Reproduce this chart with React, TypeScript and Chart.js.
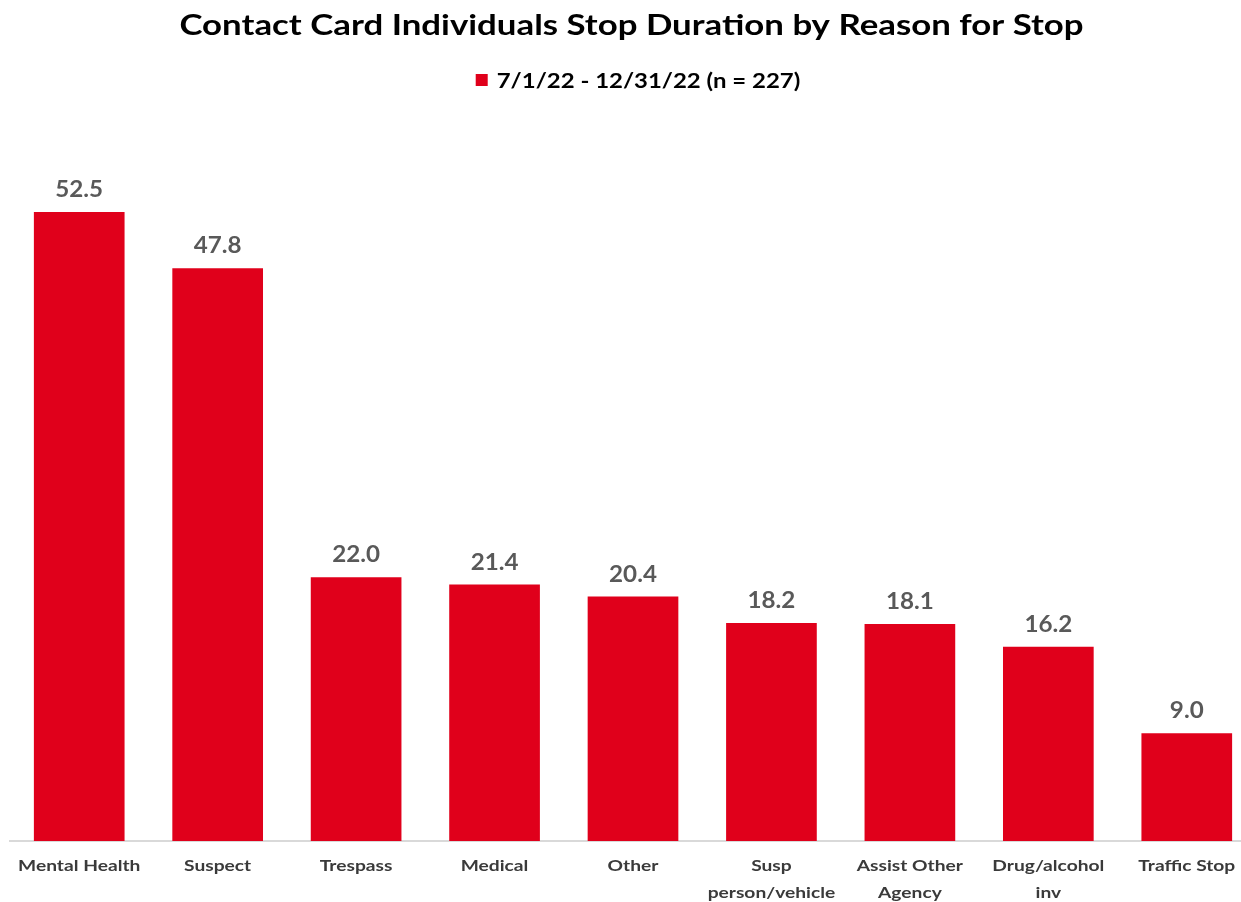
import React, { useEffect, useRef } from "react";
import { Chart, registerables } from "chart.js";

Chart.register(...registerables);

const TITLE = "Contact Card Individuals Stop Duration by Reason for Stop";
const SERIES_LABEL = "7/1/22 - 12/31/22 (n = 227)";
const CATEGORIES: (string | string[])[] = [
  "Mental Health",
  "Suspect",
  "Trespass",
  "Medical",
  "Other",
  ["Susp", "person/vehicle"],
  ["Assist Other", "Agency"],
  ["Drug/alcohol", "inv"],
  "Traffic Stop",
];
const VALUES = [52.5, 47.8, 22.0, 21.4, 20.4, 18.2, 18.1, 16.2, 9.0];
const BAR_COLOR = "#E0001B";
const FONT = "Lato, 'Noto Sans', sans-serif";

function stretchedText(
  ctx: CanvasRenderingContext2D,
  text: string,
  x: number,
  y: number,
  sx: number,
  align: CanvasTextAlign
) {
  ctx.save();
  ctx.translate(x, y);
  ctx.scale(sx, 1);
  ctx.textAlign = align;
  ctx.fillText(text, 0, 0);
  ctx.restore();
}

const decorPlugin = {
  id: "decor",
  afterDraw(chart: any) {
    const ctx = chart.ctx as CanvasRenderingContext2D;
    ctx.save();
    // title
    ctx.fillStyle = "#000000";
    ctx.font = `bold 29px ${FONT}`;
    ctx.textBaseline = "middle";
    stretchedText(ctx, TITLE, 631.5, 26, 1.2, "center");
    // legend
    ctx.font = `bold 21px ${FONT}`;
    const tw = ctx.measureText(SERIES_LABEL).width * 1.14;
    const total = 12 + 9 + tw;
    const sx = 638 - total / 2;
    ctx.fillStyle = BAR_COLOR;
    ctx.fillRect(sx, 74, 12, 12);
    ctx.fillStyle = "#000000";
    stretchedText(ctx, SERIES_LABEL, sx + 21, 81, 1.14, "left");
    // category labels
    const xScale = chart.scales.x;
    ctx.fillStyle = "#3a3a3a";
    ctx.font = `bold 16px ${FONT}`;
    ctx.textBaseline = "middle";
    CATEGORIES.forEach((lab, i) => {
      const lines = Array.isArray(lab) ? lab : [lab];
      const x = xScale.getPixelForTick(i);
      lines.forEach((line, j) => {
        stretchedText(ctx, line, x, xScale.top + 25 + j * 27, 1.2, "center");
      });
    });
    ctx.restore();
  },
  afterDatasetsDraw(chart: any) {
    const ctx = chart.ctx as CanvasRenderingContext2D;
    const meta = chart.getDatasetMeta(0);
    const data = chart.data.datasets[0].data as number[];
    ctx.save();
    ctx.fillStyle = "#595959";
    ctx.font = `bold 22px ${FONT}`;
    ctx.textBaseline = "alphabetic";
    meta.data.forEach((el: any, i: number) => {
      stretchedText(ctx, data[i].toFixed(1), el.x, el.y - 15, 1.1, "center");
    });
    ctx.restore();
  },
};

export default function App() {
  const ref = useRef<HTMLCanvasElement | null>(null);
  useEffect(() => {
    document.body.style.margin = "0";
    document.documentElement.style.overflow = "hidden";
    const chart = new Chart(ref.current as HTMLCanvasElement, {
      type: "bar",
      data: {
        labels: CATEGORIES,
        datasets: [
          {
            label: SERIES_LABEL,
            data: VALUES,
            backgroundColor: BAR_COLOR,
            barPercentage: 0.655,
            categoryPercentage: 1,
          },
        ],
      },
      options: {
        responsive: false,
        animation: false,
        layout: { padding: { top: 122, left: 10, right: 0, bottom: 0 } },
        plugins: {
          legend: { display: false },
          title: { display: false },
          tooltip: { enabled: false },
        },
        scales: {
          x: {
            grid: { display: false },
            border: { display: true, color: "#d9d9d9", width: 2 },
            ticks: { display: false },
            afterFit: (s: any) => {
              s.height = 61;
            },
          },
          y: { display: false, min: 0, max: 60 },
        },
      },
      plugins: [decorPlugin],
    });
    return () => chart.destroy();
  }, []);
  return <canvas ref={ref} width={1256} height={902} style={{ display: "block" }} />;
}
